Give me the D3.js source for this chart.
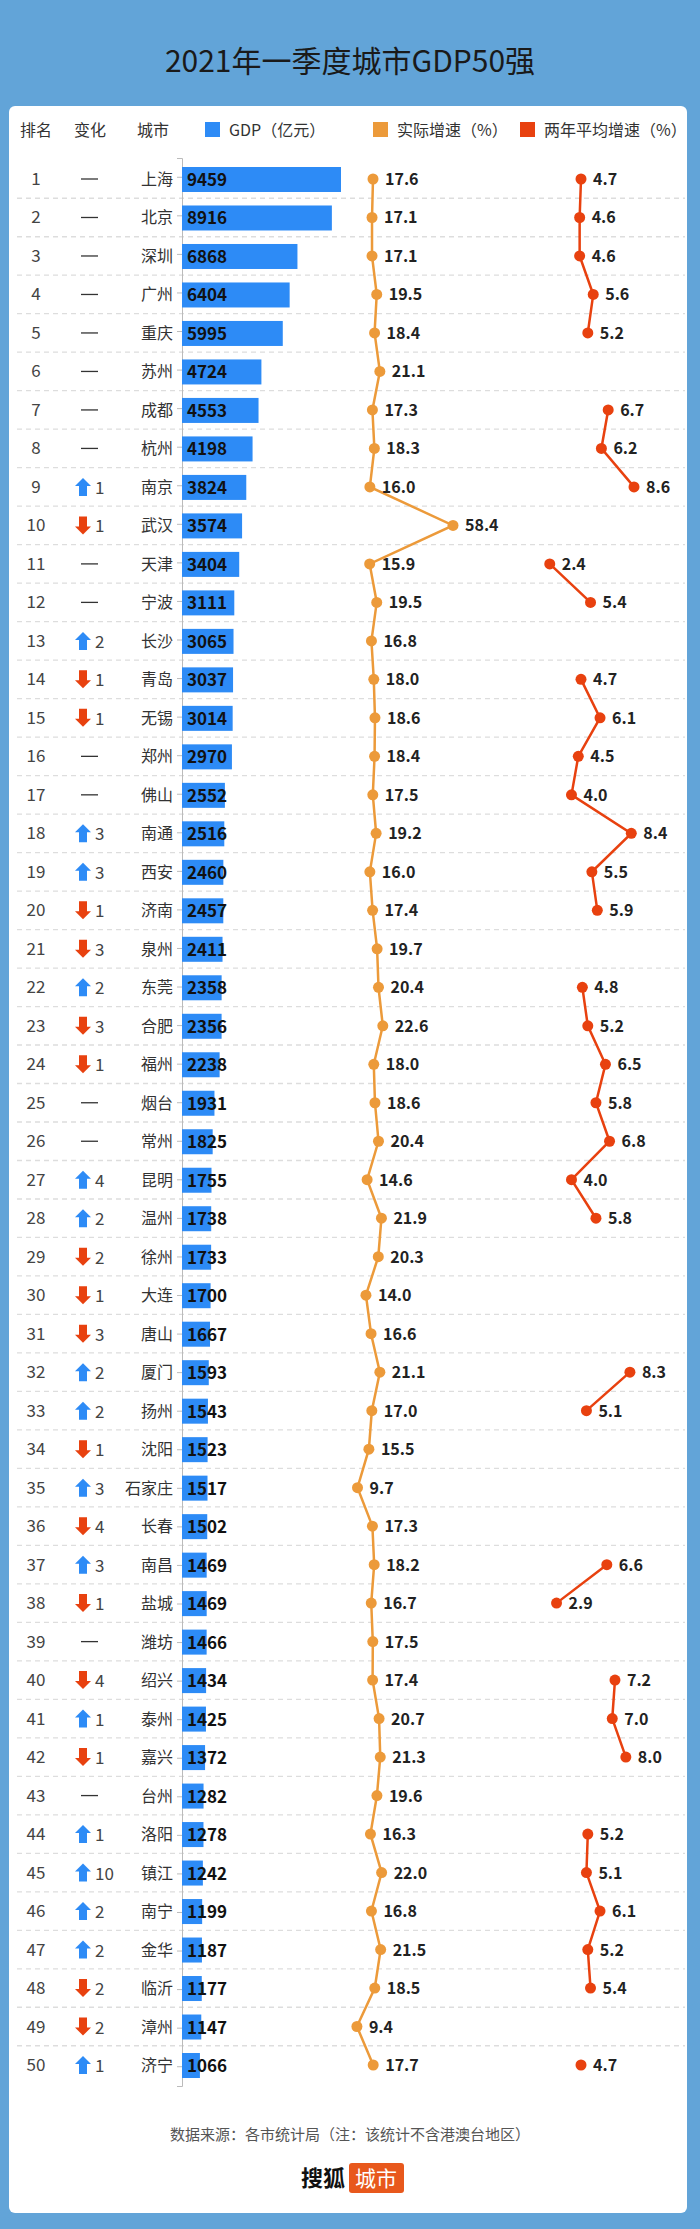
<!DOCTYPE html>
<html><head><meta charset="utf-8">
<script src="https://cdn.jsdelivr.net/npm/d3@7"></script>
<style>body{margin:0;background:#62a4d8;}svg{display:block;font-family:"Noto Sans CJK SC","Noto Sans",sans-serif;}</style>
</head><body><svg id="c" width="700" height="2229"></svg>
<script>
const cities=["上海","北京","深圳","广州","重庆","苏州","成都","杭州","南京","武汉","天津","宁波","长沙","青岛","无锡","郑州","佛山","南通","西安","济南","泉州","东莞","合肥","福州","烟台","常州","昆明","温州","徐州","大连","唐山","厦门","扬州","沈阳","石家庄","长春","南昌","盐城","潍坊","绍兴","泰州","嘉兴","台州","洛阳","镇江","南宁","金华","临沂","漳州","济宁"];
const gdp=[9459,8916,6868,6404,5995,4724,4553,4198,3824,3574,3404,3111,3065,3037,3014,2970,2552,2516,2460,2457,2411,2358,2356,2238,1931,1825,1755,1738,1733,1700,1667,1593,1543,1523,1517,1502,1469,1469,1466,1434,1425,1372,1282,1278,1242,1199,1187,1177,1147,1066];
const growth=[17.6,17.1,17.1,19.5,18.4,21.1,17.3,18.3,16.0,58.4,15.9,19.5,16.8,18.0,18.6,18.4,17.5,19.2,16.0,17.4,19.7,20.4,22.6,18.0,18.6,20.4,14.6,21.9,20.3,14.0,16.6,21.1,17.0,15.5,9.7,17.3,18.2,16.7,17.5,17.4,20.7,21.3,19.6,16.3,22.0,16.8,21.5,18.5,9.4,17.7];
const avg2=[4.7,4.6,4.6,5.6,5.2,null,6.7,6.2,8.6,null,2.4,5.4,null,4.7,6.1,4.5,4.0,8.4,5.5,5.9,null,4.8,5.2,6.5,5.8,6.8,4.0,5.8,null,null,null,8.3,5.1,null,null,null,6.6,2.9,null,7.2,7.0,8.0,null,5.2,5.1,6.1,5.2,5.4,null,4.7];
const change=[0,0,0,0,0,0,0,0,1,-1,0,0,2,-1,-1,0,0,3,3,-1,-3,2,-3,-1,0,0,4,2,-2,-1,-3,2,2,-1,3,-4,3,-1,0,-4,1,-1,0,1,10,2,2,-2,-2,1];
const headers=["排名","变化","城市"];
const legend=["GDP（亿元）","实际增速（%）","两年平均增速（%）"];

const svg=d3.select("#c");
const BLUE="#2d8bf6",OR="#ec9a3a",RED="#e8410f";
svg.append("text").attr("x",350).attr("y",72).attr("text-anchor","middle").attr("font-size",30).attr("fill","#1a1a1a").text("2021年一季度城市GDP50强");
svg.append("rect").attr("x",9).attr("y",106).attr("width",678).attr("height",2107).attr("rx",6).attr("fill","#fff");

const n=cities.length;
const y=d3.scalePoint().domain(d3.range(n)).range([179,2065]);
const x0=182;
const xb=d3.scaleLinear().domain([0,9459]).range([0,159]);
const xo=d3.scaleLinear().domain([17.6,58.4]).range([373,453]);
const xr=d3.scaleLinear().domain([4.7,8.6]).range([581,634]);

// header
const hy=136;
[["排名",36],["变化",90],["城市",153]].forEach(([t,xx])=>svg.append("text").attr("x",xx).attr("y",hy).attr("text-anchor","middle").attr("font-size",16).attr("fill","#333").text(t));
[[BLUE,205,legend[0]],[OR,373,legend[1]],[RED,520,legend[2]]].forEach(([c,xx,t])=>{
 svg.append("rect").attr("x",xx).attr("y",hy-14).attr("width",15).attr("height",15).attr("fill",c);
 svg.append("text").attr("x",xx+24).attr("y",hy).attr("font-size",16).attr("fill","#333").text(t);
});

// separators
for(let i=0;i<n-1;i++){
 const yy=(y(i)+y(i+1))/2;
 svg.append("line").attr("x1",17).attr("x2",685).attr("y1",yy).attr("y2",yy).attr("stroke","#ddd").attr("stroke-width",1.3).attr("stroke-dasharray","5,4");
}
// axis
const yAxis=d3.scaleBand().domain(d3.range(n)).range([158,2086]);
const ax=svg.append("g").attr("transform",`translate(${x0},0)`).call(d3.axisLeft(yAxis).tickSize(5).tickFormat(""));
ax.selectAll("path,line").attr("stroke","#bbb");

const g=svg.append("g");
d3.range(n).forEach(i=>{
 const yy=y(i);
 g.append("text").attr("x",36).attr("y",yy+6).attr("text-anchor","middle").attr("font-size",17).attr("fill","#444").text(i+1);
 const c=change[i];
 if(c===0){
  g.append("line").attr("x1",81).attr("x2",98).attr("y1",yy).attr("y2",yy).attr("stroke","#333").attr("stroke-width",1.3);
 } else {
  const up=c>0, col=up?BLUE:RED, ax0=83;
  const pts=up?[[ax0,yy-9],[ax0+8,yy-1],[ax0+4,yy-1],[ax0+4,yy+9],[ax0-4,yy+9],[ax0-4,yy-1],[ax0-8,yy-1]]
             :[[ax0,yy+9],[ax0+8,yy+1],[ax0+4,yy+1],[ax0+4,yy-9],[ax0-4,yy-9],[ax0-4,yy+1],[ax0-8,yy+1]];
  g.append("polygon").attr("points",pts.map(p=>p.join(",")).join(" ")).attr("fill",col);
  g.append("text").attr("x",95).attr("y",yy+7).attr("font-size",17).attr("fill","#444").text(Math.abs(c));
 }
 g.append("text").attr("x",173).attr("y",yy+6).attr("text-anchor","end").attr("font-size",16).attr("fill","#333").text(cities[i]);
 g.append("rect").attr("x",x0).attr("y",yy-12).attr("width",xb(gdp[i])).attr("height",25).attr("fill",BLUE);
 g.append("text").attr("x",x0+5).attr("y",yy+7).attr("font-size",17).attr("font-weight","bold").attr("fill","#111").text(gdp[i]);
});
// orange line
svg.append("path").attr("d",d3.line().x((d,i)=>xo(d)).y((d,i)=>y(i))(growth)).attr("fill","none").attr("stroke",OR).attr("stroke-width",2.5);
growth.forEach((v,i)=>{
 svg.append("circle").attr("cx",xo(v)).attr("cy",y(i)).attr("r",5.5).attr("fill",OR);
 svg.append("text").attr("x",xo(v)+12).attr("y",y(i)+6).attr("font-size",16).attr("font-weight","bold").attr("fill","#222").text(v.toFixed(1));
});
// red line with gaps
svg.append("path").attr("d",d3.line().defined(d=>d!==null).x(d=>xr(d)).y((d,i)=>y(i))(avg2)).attr("fill","none").attr("stroke",RED).attr("stroke-width",2.5);
avg2.forEach((v,i)=>{ if(v===null)return;
 svg.append("circle").attr("cx",xr(v)).attr("cy",y(i)).attr("r",5.5).attr("fill",RED);
 svg.append("text").attr("x",xr(v)+12).attr("y",y(i)+6).attr("font-size",16).attr("font-weight","bold").attr("fill","#222").text(v.toFixed(1));
});
// footer
svg.append("text").attr("x",350).attr("y",2140).attr("text-anchor","middle").attr("font-size",15).attr("fill","#555").text("数据来源：各市统计局（注：该统计不含港澳台地区）");
svg.append("text").attr("x",345).attr("y",2186).attr("text-anchor","end").attr("font-size",22).attr("font-weight","bold").attr("fill","#111").text("搜狐");
svg.append("rect").attr("x",349).attr("y",2163).attr("width",55).attr("height",30).attr("rx",3).attr("fill","#e8581c");
svg.append("text").attr("x",376).attr("y",2186).attr("text-anchor","middle").attr("font-size",21).attr("fill","#fff").text("城市");
</script></body></html>
